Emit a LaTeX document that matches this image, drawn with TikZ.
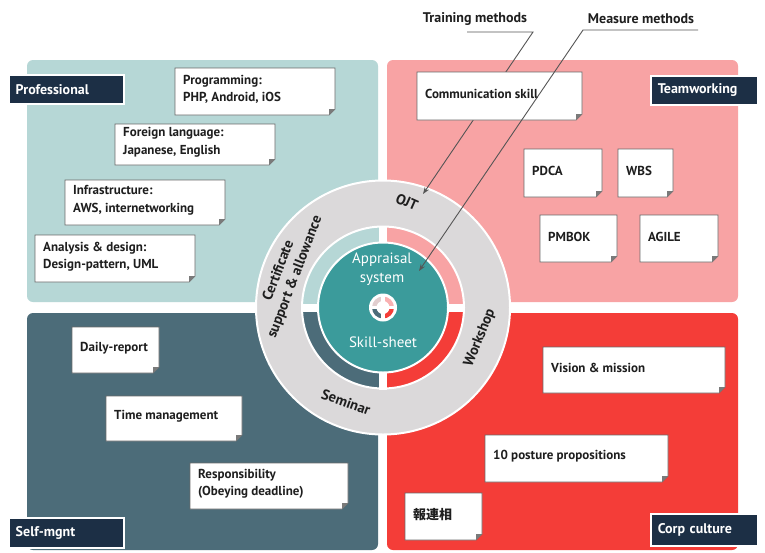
\documentclass[tikz,border=0pt]{standalone}
\usepackage{fontspec}
\setmainfont{PT Sans}
\newfontfamily\cjkfont{Noto Sans CJK JP}
\usetikzlibrary{arrows.meta}
\definecolor{qtl}{HTML}{B6D7D6}
\definecolor{qtr}{HTML}{F8A3A4}
\definecolor{qbl}{HTML}{4C6C79}
\definecolor{qbr}{HTML}{F43D38}
\definecolor{tealc}{HTML}{3B9B9B}
\definecolor{ringgray}{HTML}{DBD9DA}
\definecolor{navy}{HTML}{1C2F45}
\definecolor{notegray}{HTML}{6A6A6A}
\definecolor{foldgray}{HTML}{7A7A7A}
\definecolor{inktext}{HTML}{1E1E1E}
\definecolor{leadgray}{HTML}{555555}
\tikzset{
  quad/.style={rounded corners=6pt},
  notetext/.style={inner sep=0pt, align=left, text=inktext,
    font=\bfseries\fontsize{13}{17.5}\selectfont},
  lab/.style={fill=navy, draw=white, line width=1.5pt, text=white, inner xsep=7pt,
    inner ysep=0pt, minimum height=29pt, align=left,
    font=\bfseries\fontsize{14}{16}\selectfont, anchor=north west},
  ringtext/.style={text=inktext, font=\bfseries\fontsize{14.5}{17.5}\selectfont,
    align=center, inner sep=0pt},
  ctext/.style={text=white, font=\fontsize{15}{19}\selectfont, align=center, inner sep=0pt},
  toptext/.style={text=inktext, font=\bfseries\fontsize{14}{16}\selectfont, inner sep=0pt},
  leader/.style={draw=leadgray, line width=0.9pt},
  leadarrow/.style={leader, -{Stealth[length=7pt,width=5pt]}},
}
\newcommand\mknote[6]{% name, x1, y1, x2, y2, text
  \fill[white, draw=notegray, line width=0.7pt] (#2,#3) -- (#4,#3) -- (#4,#5-6) -- (#4-6,#5) -- (#2,#5) -- cycle;
  \fill[foldgray] (#4,#5-6) -- (#4-6,#5) -- (#4-6,#5-6) -- cycle;
  \node[notetext, anchor=west] (#1) at (#2+8,{(#3+#5)/2-2}) {#6};
}
\begin{document}
\begin{tikzpicture}[x=1pt, y=-1pt]
\useasboundingbox (0,0) rectangle (765,552);
\fill[white] (0,0) rectangle (765,552);
% quadrants
\fill[qtl, quad] (27,60) rectangle (378,302);
\fill[qtr, quad] (387,60) rectangle (738,302);
\fill[qbl, quad] (27,313) rectangle (378,550);
\fill[qbr, quad] (387,313) rectangle (738,550);
% circle
\coordinate (c) at (383,307.5);
\fill[ringgray, draw=white, line width=2pt] (c) circle[radius=127];
\fill[qtr] (c) -- ++(270:81) arc[start angle=270, end angle=360, radius=81] -- cycle;
\fill[qtl] (c) -- ++(180:81) arc[start angle=180, end angle=270, radius=81] -- cycle;
\fill[qbl] (c) -- ++(90:81) arc[start angle=90, end angle=180, radius=81] -- cycle;
\fill[qbr] (c) -- ++(0:81) arc[start angle=0, end angle=90, radius=81] -- cycle;
\draw[white, line width=2pt] (c) circle[radius=81];
\draw[white, line width=8pt] ([xshift=-82pt]c) -- ([xshift=82pt]c);
\draw[white, line width=8pt] ([yshift=-82pt]c) -- ([yshift=82pt]c);
\fill[tealc, draw=white, line width=2pt] (c) circle[radius=65];
% icon
\fill[white] (c) circle[radius=14];
\fill[qtr!85!white] (c) -- ++(270:11) arc[start angle=270, end angle=360, radius=11] -- cycle;
\fill[ringgray!80!qtr] (c) -- ++(180:11) arc[start angle=180, end angle=270, radius=11] -- cycle;
\fill[qbl] (c) -- ++(90:11) arc[start angle=90, end angle=180, radius=11] -- cycle;
\fill[qbr] (c) -- ++(0:11) arc[start angle=0, end angle=90, radius=11] -- cycle;
\draw[white, line width=3.5pt] ([xshift=-12pt]c) -- ([xshift=12pt]c);
\draw[white, line width=3.5pt] ([yshift=-12pt]c) -- ([yshift=12pt]c);
\fill[white] (c) circle[radius=6.5];
% center texts
\node[ctext] (appr) at (382,269) {Appraisal\\system};
\node[ctext] (skill) at (383,342) {Skill-sheet};
% ring texts
\node[ringtext, rotate=-24] (ojt) at (407,202) {OJT};
\node[ringtext, rotate=69] (cert) at (287,274) {Certificate\\support \& allowance};
\node[ringtext, rotate=68] (work) at (480,338) {Workshop};
\node[ringtext, rotate=-20] (semi) at (346,402) {Seminar};
% top labels and training leader (behind notes)
\node[toptext] (train) at (475,19) {Training methods};
\node[toptext] (meas) at (641,19) {Measure methods};
\coordinate (tu1) at (467,32);
\coordinate (tu2) at (533,32);
\coordinate (mu1) at (583,30);
\coordinate (mu2) at (698,30);
\coordinate (ojtpt) at (423,194);
\coordinate (apppt) at (419,271);
\draw[leadarrow] (tu1) -- (tu2) -- (ojtpt);
% notes top-left
\mknote{n1}{175}{68}{335}{115}{Programming:\\PHP, Android, iOS}
\mknote{n2}{115}{124}{275}{165}{Foreign language:\\Japanese, English}
\mknote{n3}{65}{180}{225}{225}{Infrastructure:\\AWS, internetworking}
\mknote{n4}{35}{235}{195}{282}{Analysis \& design:\\Design-pattern, UML}
% notes top-right
\mknote{n5}{417}{72}{582}{120}{Communication skill}
\mknote{n6}{524}{149}{602}{197}{PDCA}
\mknote{n7}{618}{149}{673}{197}{WBS}
\mknote{n8}{540}{215}{617}{262}{PMBOK}
\mknote{n9}{640}{215}{718}{262}{AGILE}
% notes bottom-left
\mknote{n10}{72}{327}{159}{373}{Daily-report}
\mknote{n11}{106}{396}{242}{441}{Time management}
\mknote{n12}{190}{463}{348}{509}{Responsibility\\(Obeying deadline)}
% notes bottom-right
\mknote{n13}{543}{347}{725}{393}{Vision \& mission}
\mknote{n14}{485}{435}{668}{482}{10 posture propositions}
\mknote{n15}{405}{493}{482}{540}{{\cjkfont 報連相}}
% measure leader (over notes)
\draw[leadarrow] (mu2) -- (mu1) -- (apppt);
% corner labels
\node[lab, text width=101pt] (prof) at (8,74) {Professional};
\node[lab, text width=93pt] (team) at (650,75) {Teamworking};
\node[lab, text width=101pt, minimum height=30pt] (self) at (8,517) {Self-mgnt};
\node[lab, text width=93pt, minimum height=32pt] (corp) at (650,513) {Corp culture};
\end{tikzpicture}
\end{document}
